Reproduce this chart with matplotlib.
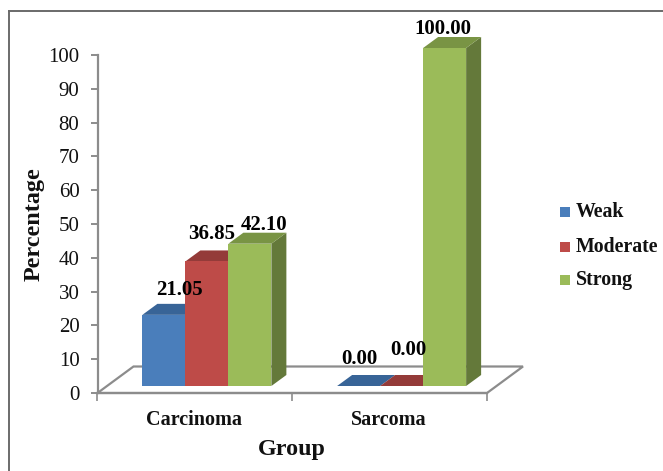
import matplotlib
matplotlib.use("Agg")
import matplotlib.pyplot as plt
from matplotlib.patches import Polygon, Rectangle
from matplotlib.lines import Line2D

groups = ["Carcinoma", "Sarcoma"]
series = ["Weak", "Moderate", "Strong"]
weak = [21.05, 0.00]
moderate = [36.85, 0.00]
strong = [42.10, 100.00]
labels = ["%.2f" % v for v in weak], ["%.2f" % v for v in moderate], ["%.2f" % v for v in strong]
face = ["#4A7EBB", "#BE4B48", "#9BBB59"]
top = ["#386497", "#943B39", "#799444"]
side = ["#2F5380", "#7D3230", "#64793A"]

W, H = 663, 471
plt.rcParams["font.family"] = ["Liberation Serif", "DejaVu Serif"]
fig = plt.figure(figsize=(W / 100, H / 100), dpi=100, facecolor="white")

# frame of the picture
fig.add_artist(Line2D([9 / W, 9 / W], [0, 1 - 10.5 / H], color="#444444", lw=1.1))
fig.add_artist(Line2D([9 / W, 1], [1 - 10.5 / H, 1 - 10.5 / H], color="#6a6a6a", lw=1.4))

L, R, T, B = 97.5, 487, 55, 393
ax = fig.add_axes([L / W, 1 - B / H, (R - L) / W, (B - T) / H])
ax.set_xlim(-0.5, 1.5)
ax.set_ylim(0, 100)
ax.patch.set_visible(False)
pxx = (R - L) / 2
pxy = (B - T) / 100

# depth and front-plane offset expressed in data units
ddx, ddy = 15 / pxx, 11 / pxy
ox, oy = 12 / pxx, 7 / pxy
fx, fy = 36 / pxx, 26.5 / pxy
bw = 43 / pxx

gray = "#8c8c8c"
for s in ("top", "right"):
    ax.spines[s].set_visible(False)
for s in ("left", "bottom"):
    ax.spines[s].set_color(gray)
    ax.spines[s].set_linewidth(1.6)

# floor
ax.add_patch(Polygon([(-0.5, 0), (-0.5 + fx, fy), (1.5 + fx, fy), (1.5, 0)], closed=True,
                     fc="white", ec=gray, lw=1.6, clip_on=False, zorder=1))

ax.set_yticks(range(0, 101, 10))
ax.set_xticks([-0.5, 0.5, 1.5])
ax.set_xticklabels([])
ax.tick_params(axis="y", length=5, width=1.4, color=gray, labelsize=15, pad=8, labelcolor="#111111")
ax.tick_params(axis="x", length=6, width=1.2, color=gray)

# label placement per bar (pixel offsets from front-top-centre)
lab_off = {(0, 0): (16, 25), (0, 1): (5, 27), (0, 2): (14, 18),
           (1, 0): (1, 27), (1, 1): (7, 36), (1, 2): (-2, 19)}

vals = [weak, moderate, strong]
for si, v in enumerate(vals):
    xs = [g + ox + (si - 1) * bw for g in range(len(groups))]
    for gi, (x, h) in enumerate(zip(xs, v)):
        x0, x1 = x - bw / 2, x + bw / 2
        y0, y1 = oy, oy + h
        if h > 0:
            ax.add_patch(Polygon([(x1, y0), (x1 + ddx, y0 + ddy), (x1 + ddx, y1 + ddy), (x1, y1)],
                                 closed=True, fc=side[si], ec="none", zorder=2 + si, clip_on=False))
        ax.add_patch(Polygon([(x0, y1), (x0 + ddx, y1 + ddy), (x1 + ddx, y1 + ddy), (x1, y1)],
                             closed=True, fc=top[si], ec="none", zorder=2 + si, clip_on=False))
    bars = ax.bar(xs, v, width=bw, bottom=oy, color=face[si], edgecolor="none", zorder=3 + si)
    for b in bars:
        b.set_clip_on(False)
    for gi, (x, h) in enumerate(zip(xs, v)):
        dx, dy = lab_off[(gi, si)]
        ax.annotate(labels[si][gi], (x, oy + h), xytext=(dx * 0.72, dy * 0.72 - 7),
                    textcoords="offset points", ha="center", va="bottom",
                    fontsize=15, fontweight="bold", color="black", zorder=10,
                    annotation_clip=False)

# category labels
for x_px, g in zip([194, 388.5], groups):
    fig.text(x_px / W, 1 - 420 / H, g, ha="center", va="center",
             fontsize=14.5, fontweight="bold", color="#111111")

fig.text(292 / W, 1 - 449 / H, "Group", ha="center", va="center",
         fontsize=17.3, fontweight="bold", color="#111111")
fig.text(34 / W, 1 - 224.5 / H, "Percentage", ha="center", va="center", rotation=90,
         fontsize=17.4, fontweight="bold", color="#111111")

# legend
for yy, name, c in zip([212, 247, 280], series, face):
    fig.add_artist(Rectangle((560 / W, 1 - (yy + 5) / H), 10 / W, 10 / H, fc=c, ec="none",
                             transform=fig.transFigure))
    fig.text(576 / W, 1 - yy / H, name, ha="left", va="center",
             fontsize=14.3, fontweight="bold", color="#111111")

fig.savefig("out.png", dpi=100, facecolor="white")
